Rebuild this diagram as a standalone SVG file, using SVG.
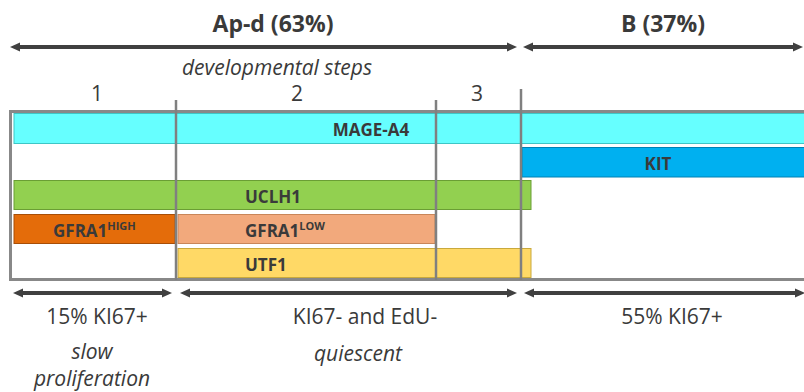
<svg xmlns="http://www.w3.org/2000/svg" width="804" height="392" viewBox="0 0 804 392">
<defs>
<style>
.t{font-family:"Open Sans","Liberation Sans",sans-serif;fill:#3a3a3a}
.h{font-size:23px;font-weight:bold;text-anchor:middle}
.n{font-size:21px;text-anchor:middle}
.i{font-size:21px;font-style:italic;text-anchor:middle}
.b{font-size:17px;font-weight:bold}
.sup{font-size:11px;font-weight:bold}
.ar{stroke:#404040;stroke-width:4;fill:none;marker-start:url(#ah);marker-end:url(#ah)}
.vl{stroke:#808080;stroke-width:2.5}
</style>
<marker id="ah" viewBox="0 0 10 10" refX="5" refY="5" markerUnits="userSpaceOnUse" markerWidth="10" markerHeight="10" orient="auto-start-reverse">
<path d="M0,0.5 L10,5 L0,9.5 Z" fill="#404040"/>
</marker>
</defs>
<rect width="804" height="392" fill="#ffffff"/>
<g id="titles">
<text class="t h" x="273" y="32">Ap-d (63%)</text>
<text class="t h" x="663" y="32">B (37%)</text>
<text class="t i" x="277" y="75">developmental steps</text>
<text class="t n" x="97" y="101">1</text>
<text class="t n" x="297" y="101">2</text>
<text class="t n" x="477" y="101">3</text>
</g>
<g id="frame">
<rect x="10.5" y="111.5" width="800" height="168" fill="none" stroke="#888888" stroke-width="3"/>
</g>
<g id="mage-a4">
<rect x="14" y="113.5" width="792" height="30" fill="#66FFFF" stroke="#3ec6c6" stroke-width="1"/>
<text class="t b" x="371" y="136" text-anchor="middle">MAGE-A4</text>
</g>
<g id="kit">
<rect x="522" y="147.5" width="284" height="29.5" fill="#00B0F0" stroke="#0082b4" stroke-width="1"/>
<text class="t b" x="658" y="170" text-anchor="middle">KIT</text>
</g>
<g id="uclh1">
<rect x="14" y="180.5" width="517" height="29" fill="#92D050" stroke="#6a9e34" stroke-width="1"/>
<text class="t b" x="273" y="203" text-anchor="middle">UCLH1</text>
</g>
<g id="gfra1-high">
<rect x="14" y="214.5" width="161" height="29" fill="#E46C0A" stroke="#a84e06" stroke-width="1"/>
<text class="t b" x="53" y="237">GFRA1<tspan class="sup" dy="-7">HIGH</tspan></text>
</g>
<g id="gfra1-low">
<rect x="178" y="214.5" width="257" height="29" fill="#F2A97C" stroke="#c98659" stroke-width="1"/>
<text class="t b" x="245" y="237">GFRA1<tspan class="sup" dy="-7">LOW</tspan></text>
</g>
<g id="utf1">
<rect x="178" y="248.5" width="353" height="29" fill="#FFD966" stroke="#c9a93c" stroke-width="1"/>
<text class="t b" x="245" y="271">UTF1</text>
</g>
<g id="connectors">
<line class="ar" x1="15" y1="47" x2="512" y2="47"/>
<line class="ar" x1="528" y1="47" x2="798" y2="47"/>
<line class="vl" x1="176" y1="100" x2="176" y2="280"/>
<line class="vl" x1="436" y1="100" x2="436" y2="280"/>
<line class="vl" x1="521" y1="89" x2="521" y2="280"/>
<line class="ar" x1="18" y1="293" x2="167" y2="293"/>
<line class="ar" x1="185" y1="293" x2="512" y2="293"/>
<line class="ar" x1="529" y1="293" x2="800" y2="293"/>
</g>
<g id="bottom-labels">
<text class="t n" x="97" y="324">15% KI67+</text>
<text class="t n" x="365" y="324">KI67- and EdU-</text>
<text class="t n" x="672" y="324">55% KI67+</text>
<text class="t i" x="92" y="359">slow</text>
<text class="t i" x="92" y="386">proliferation</text>
<text class="t i" x="358" y="361">quiescent</text>
</g>
</svg>
